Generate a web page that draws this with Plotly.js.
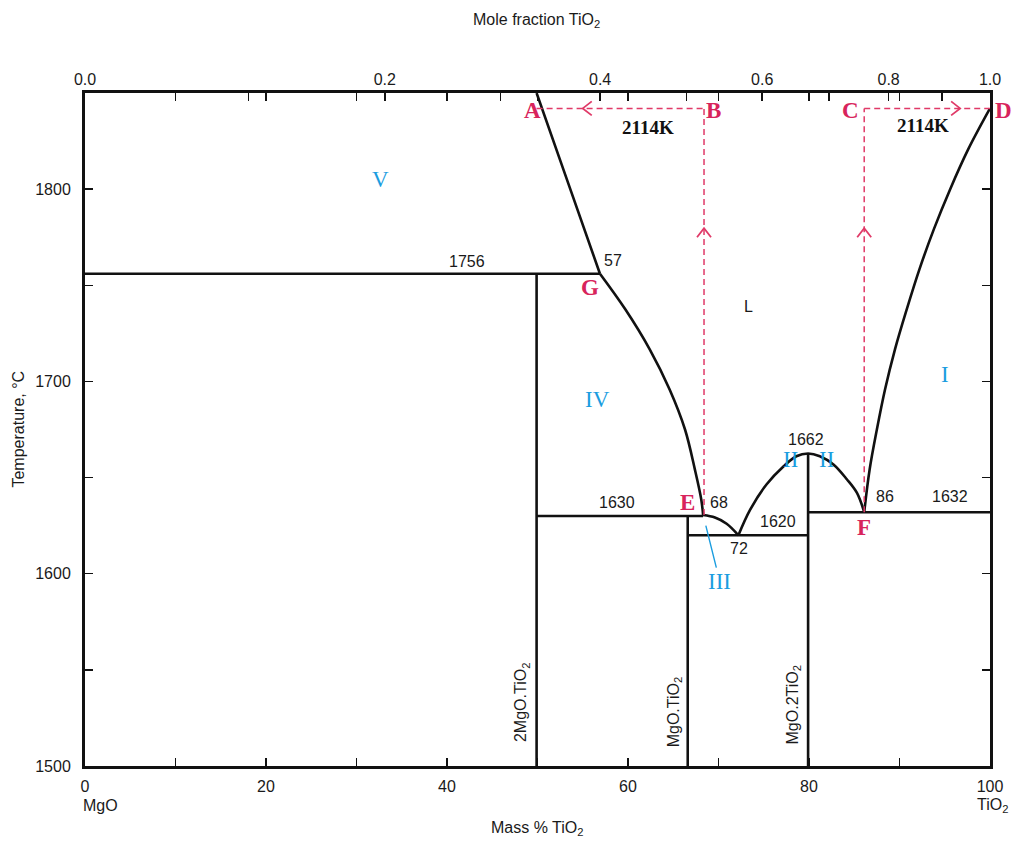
<!DOCTYPE html>
<html>
<head>
<meta charset="utf-8">
<script src="https://cdn.plot.ly/plotly-3.0.1.min.js"></script>
<style>html,body{margin:0;padding:0;background:#fff;}#chart{width:1015px;height:843px;}</style>
</head>
<body>
<div id="chart"></div>
<script>
// ---------- data (mass % TiO2, temperature °C) ----------
const liqAGX = [49.9, 53.4, 56.9];
const liqAGT = [1850, 1803, 1756];
const liqGEX = [56.9, 59.7, 62.4, 64.6, 66.3, 67.4, 68.1, 68.3];
const liqGET = [1756, 1737.5, 1716.7, 1695.8, 1675, 1654, 1638.5, 1630.5];
const liqE72X = [68.3, 69.6, 70.9, 72.2];
const liqE72T = [1630.5, 1629.2, 1626, 1620];
const liqDomeX = [72.2, 73.5, 75.3, 77.2, 78.6, 79.9, 81.2, 82.7, 84.2, 85.3, 86.1];
const liqDomeT = [1620, 1633.3, 1646.4, 1655.9, 1661.1, 1662.5, 1661.1, 1656.8, 1649, 1642, 1632];
const liqRightX = [86.1, 86.7, 87.5, 88.4, 89.5, 90.8, 92.2, 93.8, 95.6, 97.6, 100];
const liqRightT = [1632, 1654.2, 1675, 1695.8, 1716.7, 1737.5, 1758.3, 1779.2, 1800, 1820.8, 1842];

const isothermT = [1756, 1630, 1620, 1632];
const isothermFrom = [0, 49.9, 66.6, 79.9];
const isothermTo = [56.9, 68.3, 79.9, 100];

const compoundX = [49.9, 66.6, 79.9];
const compoundTop = [1756, 1630, 1662.5];
const compoundNames = ['2MgO.TiO<sub>2</sub>', 'MgO.TiO<sub>2</sub>', 'MgO.2TiO<sub>2</sub>'];

const pathT = 1842;            // 2114 K
const pathBx = 68.4, pathCx = 86.1;
const pathAx = 49.9, pathDx = 100;

const moleMajor = [0, 0.2, 0.4, 0.6, 0.8, 1.0];
const moleLabels = ['0.0', '0.2', '0.4', '0.6', '0.8', '1.0'];
const moleMinor = [0.1, 0.3, 0.5, 0.7, 0.9];
const massMajor = [0, 20, 40, 60, 80, 100];
const massMinor = [10, 30, 50, 70, 90];
const tempMajor = [1500, 1600, 1700, 1800];
const tempMinor = [1550, 1650, 1750, 1850];

const MW_TiO2 = 79.87, MW_MgO = 40.30;
function moleToMass(x) { return 100 * x * MW_TiO2 / (x * MW_TiO2 + (1 - x) * MW_MgO); }

// ---------- traces ----------
const black = {color: '#111', width: 2.6};
const red = '#e03a68';
const traces = [];
function line(x, y, style) {
  traces.push({x: x, y: y, type: 'scatter', mode: 'lines', line: style, hoverinfo: 'skip', showlegend: false, xaxis: 'x', yaxis: 'y'});
}
const curve = Object.assign({shape: 'spline', smoothing: 1}, black);
line(liqAGX, liqAGT, Object.assign({shape: 'spline', smoothing: 0.5}, black));
line(liqGEX, liqGET, curve);
line(liqE72X, liqE72T, curve);
line(liqDomeX, liqDomeT, curve);
line(liqRightX, liqRightT, curve);
isothermT.forEach((t, i) => line([isothermFrom[i], isothermTo[i]], [t, t], black));
compoundX.forEach((x, i) => line([x, x], [1500, compoundTop[i]], black));
// red dashed construction lines
const dash = {color: red, width: 1.5, dash: '6px,4px'};
line([pathAx, pathBx], [pathT, pathT], dash);
line([pathBx, pathBx], [1630.5, pathT], dash);
line([pathCx, pathDx], [pathT, pathT], dash);
line([pathCx, pathCx], [1632, pathT], dash);
// invisible trace for top axis
traces.push({x: [0, 100], y: [1500, 1500], xaxis: 'x2', yaxis: 'y', mode: 'markers', marker: {opacity: 0}, hoverinfo: 'skip', showlegend: false});

// ---------- chevrons ----------
const chevrons = [
  {x: 55.0, y: pathT, p: 'M 9,-7 L 0,0 L 9,7'},
  {x: 96.7, y: pathT, p: 'M -9,-7 L 0,0 L -9,7'},
  {x: pathBx, y: 1779.7, p: 'M -7,-9 L 0,0 L 7,-9'},
  {x: pathCx, y: 1779.7, p: 'M -7,-9 L 0,0 L 7,-9'}
];
const shapes = chevrons.map(c => ({
  type: 'path', xref: 'x', yref: 'y', xsizemode: 'pixel', ysizemode: 'pixel',
  xanchor: c.x, yanchor: c.y, path: c.p, line: {color: red, width: 1.8}
}));

// ---------- annotations ----------
const numFont = {family: 'Liberation Sans, Arial, sans-serif', size: 16, color: '#1a1a1a'};
const redFont = {family: 'Liberation Serif, Times New Roman, serif', size: 23, color: '#d8245c', weight: 'bold'};
const kFont = {family: 'Liberation Serif, Times New Roman, serif', size: 19, color: '#111', weight: 'bold'};
const blueFont = {family: 'Liberation Serif, Times New Roman, serif', size: 23, color: '#1b9ddf'};
const ann = [];
function txt(t, x, y, font, extra) {
  ann.push(Object.assign({text: t, x: x, y: y, xref: 'x', yref: 'y', showarrow: false, font: font, xanchor: 'center', yanchor: 'middle'}, extra || {}));
}
txt('1756', 42.2, 1762.5, numFont);
txt('57', 58.3, 1763, numFont);
txt('1630', 58.8, 1637, numFont);
txt('68', 70.1, 1637, numFont);
txt('72', 72.3, 1613, numFont);
txt('1620', 76.6, 1627, numFont);
txt('1662', 79.7, 1670, numFont);
txt('86', 88.4, 1640, numFont);
txt('1632', 95.6, 1640, numFont);
txt('L', 73.3, 1739, numFont);

txt('A', 49.5, 1841, redFont);
txt('B', 69.4, 1841, redFont);
txt('C', 84.6, 1841, redFont);
txt('D', 100, 1841, redFont, {xshift: 13});
txt('E', 66.6, 1637, redFont);
txt('F', 86.1, 1624, redFont);
txt('G', 55.8, 1749, redFont);
txt('2114K', 62.2, 1832.3, kFont);
txt('2114K', 92.6, 1833.3, kFont);

txt('V', 32.6, 1805.2, blueFont);
txt('IV', 56.6, 1690.6, blueFont);
txt('II', 78.0, 1659.4, blueFont);
txt('II', 81.9, 1659.4, blueFont);
txt('I', 95.0, 1703.6, blueFont);
ann.push({text: 'III', x: 68.6, y: 1625, xref: 'x', yref: 'y', showarrow: true, arrowhead: 0, arrowwidth: 1.4,
  arrowcolor: '#1b9ddf', ax: 14, ay: 56, font: blueFont, standoff: 0});

const compFont = {family: 'Liberation Sans, Arial, sans-serif', size: 16, color: '#1a1a1a'};
const compPos = [[48.3, 1532.8], [65.1, 1528], [78.3, 1531.8]];
compoundNames.forEach((n, i) => txt(n, compPos[i][0], compPos[i][1], compFont, {textangle: -90}));

const titleFont = {family: 'Liberation Sans, Arial, sans-serif', size: 16, color: '#1a1a1a'};
function ptxt(t, x, y, extra) {
  ann.push(Object.assign({text: t, x: x, y: y, xref: 'paper', yref: 'paper', showarrow: false, font: titleFont, xanchor: 'center', yanchor: 'middle'}, extra || {}));
}
ptxt('Mole fraction TiO<sub>2</sub>', 0.4994, 1.108);
ptxt('Mass % TiO<sub>2</sub>', 0.4994, -0.093);
ptxt('Temperature, °C', -0.074, 0.5, {textangle: -90});
ptxt('MgO', 0.0166, -0.058);
ptxt('TiO<sub>2</sub>', 1.0033, -0.058);

const tickFont = {family: 'Liberation Sans, Arial, sans-serif', size: 16, color: '#1a1a1a'};
const minorStyle = {ticks: 'inside', ticklen: 8, tickwidth: 1.5, tickcolor: '#111', showgrid: false};
const layout = {
  width: 1015, height: 843,
  margin: {l: 85, r: 25, t: 93, b: 77},
  paper_bgcolor: '#fff', plot_bgcolor: '#fff',
  showlegend: false,
  xaxis: {
    range: [0, 100], tickvals: massMajor, ticktext: massMajor.map(String), ticks: 'inside', ticklen: 8, tickwidth: 1.5,
    tickcolor: '#111', showline: true, linecolor: '#111', linewidth: 3, mirror: 'ticks', showgrid: false,
    zeroline: false, tickfont: tickFont, ticklabelstandoff: 4,
    minor: Object.assign({tickvals: massMinor}, minorStyle)
  },
  xaxis2: {
    range: [0, 100], overlaying: 'x', side: 'top', anchor: 'y',
    tickvals: moleMajor.map(moleToMass), ticktext: moleLabels, ticks: 'inside', ticklen: 8, tickwidth: 1.5,
    tickcolor: '#111', showline: false, showgrid: false, zeroline: false, tickfont: tickFont, ticklabelstandoff: 4,
    minor: Object.assign({tickvals: moleMinor.map(moleToMass)}, minorStyle)
  },
  yaxis: {
    range: [1500, 1850], tickvals: tempMajor, ticktext: tempMajor.map(String), ticks: 'inside', ticklen: 8, tickwidth: 1.5,
    tickcolor: '#111', showline: true, linecolor: '#111', linewidth: 3, mirror: 'ticks', showgrid: false,
    zeroline: false, tickfont: tickFont, ticklabelstandoff: 8,
    minor: Object.assign({tickvals: tempMinor}, minorStyle)
  },
  shapes: shapes,
  annotations: ann
};
Plotly.newPlot('chart', traces, layout, {displayModeBar: false, staticPlot: true});
</script>
</body>
</html>
